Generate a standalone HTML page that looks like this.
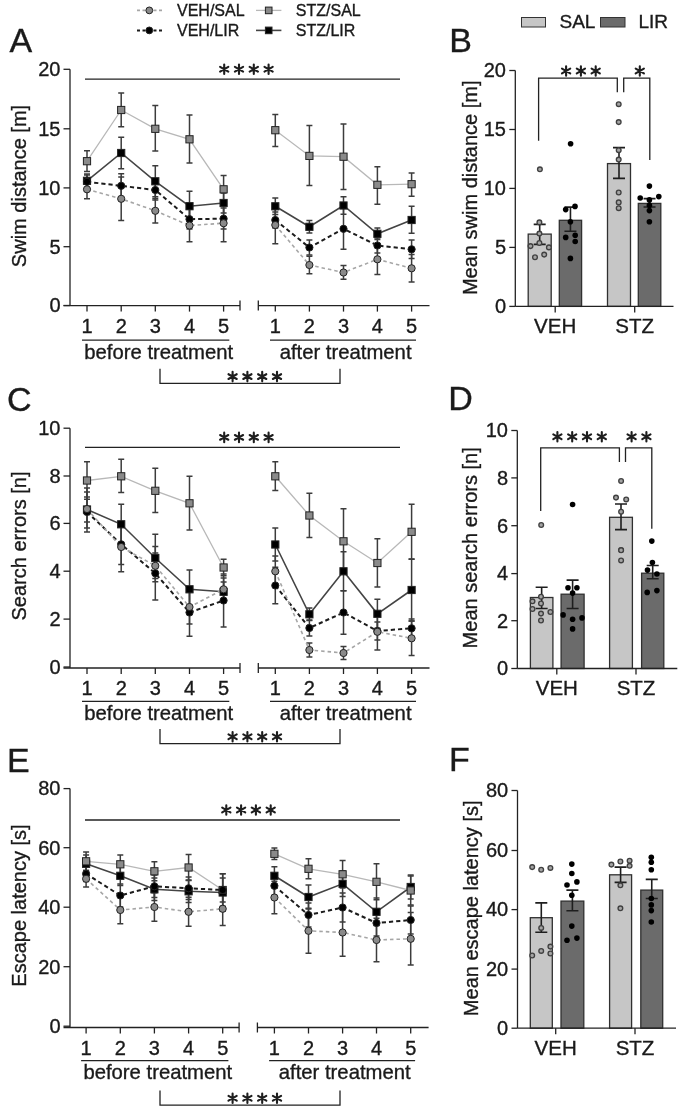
<!DOCTYPE html>
<html><head><meta charset="utf-8"><title>Figure</title>
<style>html,body{margin:0;padding:0;background:#fff;}svg{display:block;}text{font-family:"Liberation Sans", sans-serif;stroke:#1a1a1a;stroke-width:0.35px;}svg{will-change:transform;}</style>
</head><body>
<svg width="685" height="1114" viewBox="0 0 685 1114">
<rect width="685" height="1114" fill="#fff"/>
<line x1="137" y1="10.4" x2="162" y2="10.4" stroke="#a6a6a6" stroke-width="1.6" stroke-dasharray="3 2.5"/>
<circle cx="149.3" cy="10.4" r="3.4" fill="#8a8a8a" stroke="#222" stroke-width="1"/>
<line x1="137" y1="30.4" x2="162" y2="30.4" stroke="#1c1c1c" stroke-width="2.0" stroke-dasharray="3 2.5"/>
<circle cx="149.3" cy="30.4" r="3.4" fill="#000" stroke="#222" stroke-width="1"/>
<line x1="256" y1="10.4" x2="281.4" y2="10.4" stroke="#b8b8b8" stroke-width="1.3"/>
<rect x="265.4" y="7.1000000000000005" width="6.6" height="6.6" fill="#8a8a8a" stroke="#222" stroke-width="1"/>
<line x1="256" y1="30.4" x2="281.4" y2="30.4" stroke="#444" stroke-width="1.6"/>
<rect x="265.4" y="27.099999999999998" width="6.6" height="6.6" fill="#000" stroke="#222" stroke-width="1"/>
<text x="177" y="15.6" font-size="16" text-anchor="start" fill="#1a1a1a" >VEH/SAL</text>
<text x="177" y="35.8" font-size="16" text-anchor="start" fill="#1a1a1a" >VEH/LIR</text>
<text x="295.8" y="15.6" font-size="16" text-anchor="start" fill="#1a1a1a" >STZ/SAL</text>
<text x="295.8" y="35.8" font-size="16" text-anchor="start" fill="#1a1a1a" >STZ/LIR</text>
<rect x="521.5" y="17.5" width="24" height="9.5" fill="#c6c6c6" stroke="#333" stroke-width="1"/>
<rect x="600.5" y="17.5" width="24.5" height="9.5" fill="#6b6b6b" stroke="#333" stroke-width="1"/>
<text x="559.5" y="27.5" font-size="19" text-anchor="start" fill="#1a1a1a" >SAL</text>
<text x="638.5" y="27.5" font-size="19" text-anchor="start" fill="#1a1a1a" >LIR</text>
<line x1="70" y1="69.3" x2="70" y2="305.6" stroke="#222" stroke-width="1.3" />
<line x1="63.5" y1="69.3" x2="70" y2="69.3" stroke="#222" stroke-width="1.3" />
<text x="60.5" y="76.1" font-size="20" text-anchor="end" fill="#1a1a1a" >20</text>
<line x1="63.5" y1="128.8" x2="70" y2="128.8" stroke="#222" stroke-width="1.3" />
<text x="60.5" y="135.60000000000002" font-size="20" text-anchor="end" fill="#1a1a1a" >15</text>
<line x1="63.5" y1="187.9" x2="70" y2="187.9" stroke="#222" stroke-width="1.3" />
<text x="60.5" y="194.70000000000002" font-size="20" text-anchor="end" fill="#1a1a1a" >10</text>
<line x1="63.5" y1="246.7" x2="70" y2="246.7" stroke="#222" stroke-width="1.3" />
<text x="60.5" y="253.5" font-size="20" text-anchor="end" fill="#1a1a1a" >5</text>
<line x1="63.5" y1="305.5" x2="70" y2="305.5" stroke="#222" stroke-width="1.3" />
<text x="60.5" y="312.3" font-size="20" text-anchor="end" fill="#1a1a1a" >0</text>
<line x1="63.5" y1="305.6" x2="240" y2="305.6" stroke="#222" stroke-width="1.3" />
<line x1="240" y1="300.6" x2="240" y2="310.6" stroke="#222" stroke-width="1.3" />
<line x1="258.3" y1="300.6" x2="258.3" y2="310.6" stroke="#222" stroke-width="1.3" />
<line x1="258.3" y1="305.6" x2="429.5" y2="305.6" stroke="#222" stroke-width="1.3" />
<line x1="87" y1="305.6" x2="87" y2="311.6" stroke="#222" stroke-width="1.3" />
<text x="87" y="333.0" font-size="20" text-anchor="middle" fill="#1a1a1a" >1</text>
<line x1="121.2" y1="305.6" x2="121.2" y2="311.6" stroke="#222" stroke-width="1.3" />
<text x="121.2" y="333.0" font-size="20" text-anchor="middle" fill="#1a1a1a" >2</text>
<line x1="155.3" y1="305.6" x2="155.3" y2="311.6" stroke="#222" stroke-width="1.3" />
<text x="155.3" y="333.0" font-size="20" text-anchor="middle" fill="#1a1a1a" >3</text>
<line x1="189.5" y1="305.6" x2="189.5" y2="311.6" stroke="#222" stroke-width="1.3" />
<text x="189.5" y="333.0" font-size="20" text-anchor="middle" fill="#1a1a1a" >4</text>
<line x1="223.6" y1="305.6" x2="223.6" y2="311.6" stroke="#222" stroke-width="1.3" />
<text x="223.6" y="333.0" font-size="20" text-anchor="middle" fill="#1a1a1a" >5</text>
<line x1="275.3" y1="305.6" x2="275.3" y2="311.6" stroke="#222" stroke-width="1.3" />
<text x="275.3" y="333.0" font-size="20" text-anchor="middle" fill="#1a1a1a" >1</text>
<line x1="309.4" y1="305.6" x2="309.4" y2="311.6" stroke="#222" stroke-width="1.3" />
<text x="309.4" y="333.0" font-size="20" text-anchor="middle" fill="#1a1a1a" >2</text>
<line x1="343.5" y1="305.6" x2="343.5" y2="311.6" stroke="#222" stroke-width="1.3" />
<text x="343.5" y="333.0" font-size="20" text-anchor="middle" fill="#1a1a1a" >3</text>
<line x1="377.4" y1="305.6" x2="377.4" y2="311.6" stroke="#222" stroke-width="1.3" />
<text x="377.4" y="333.0" font-size="20" text-anchor="middle" fill="#1a1a1a" >4</text>
<line x1="411.6" y1="305.6" x2="411.6" y2="311.6" stroke="#222" stroke-width="1.3" />
<text x="411.6" y="333.0" font-size="20" text-anchor="middle" fill="#1a1a1a" >5</text>
<line x1="82" y1="340.1" x2="229.3" y2="340.1" stroke="#222" stroke-width="1.3" />
<line x1="270" y1="340.1" x2="416" y2="340.1" stroke="#222" stroke-width="1.3" />
<text x="158.7" y="358.5" font-size="20.3" text-anchor="middle" fill="#1a1a1a" >before treatment</text>
<text x="345.6" y="358.5" font-size="20.3" text-anchor="middle" fill="#1a1a1a" >after treatment</text>
<path d="M160,368.8V383.4H340V368.8" fill="none" stroke="#222" stroke-width="1.3"/>
<path d="M232.60,381.35L232.60,371.85M228.49,378.97L236.71,374.22M228.49,374.22L236.71,378.97" stroke="#1e1e1e" stroke-width="2.1" stroke-linecap="round" fill="none"/>
<path d="M247.40,381.35L247.40,371.85M243.29,378.97L251.51,374.22M243.29,374.22L251.51,378.97" stroke="#1e1e1e" stroke-width="2.1" stroke-linecap="round" fill="none"/>
<path d="M262.20,381.35L262.20,371.85M258.09,378.97L266.31,374.22M258.09,374.22L266.31,378.97" stroke="#1e1e1e" stroke-width="2.1" stroke-linecap="round" fill="none"/>
<path d="M277.00,381.35L277.00,371.85M272.89,378.97L281.11,374.22M272.89,374.22L281.11,378.97" stroke="#1e1e1e" stroke-width="2.1" stroke-linecap="round" fill="none"/>
<line x1="85" y1="79.2" x2="400" y2="79.2" stroke="#222" stroke-width="1.3" />
<path d="M224.20,73.95L224.20,64.45M220.09,71.58L228.31,66.83M220.09,66.83L228.31,71.58" stroke="#1e1e1e" stroke-width="2.1" stroke-linecap="round" fill="none"/>
<path d="M239.00,73.95L239.00,64.45M234.89,71.58L243.11,66.83M234.89,66.83L243.11,71.58" stroke="#1e1e1e" stroke-width="2.1" stroke-linecap="round" fill="none"/>
<path d="M253.80,73.95L253.80,64.45M249.69,71.58L257.91,66.83M249.69,66.83L257.91,71.58" stroke="#1e1e1e" stroke-width="2.1" stroke-linecap="round" fill="none"/>
<path d="M268.60,73.95L268.60,64.45M264.49,71.58L272.71,66.83M264.49,66.83L272.71,71.58" stroke="#1e1e1e" stroke-width="2.1" stroke-linecap="round" fill="none"/>
<text transform="translate(26.3,186) rotate(-90)" font-size="20" text-anchor="middle" fill="#1a1a1a">Swim distance [m]</text>
<text x="9.5" y="52.4" font-size="34" text-anchor="start" fill="#1a1a1a" >A</text>
<path d="M87,174V190M84.0,174H90.0M84.0,190H90.0" stroke="#3c3c3c" stroke-width="1.5" fill="none"/>
<path d="M121.2,137.3V168.8M118.2,137.3H124.2M118.2,168.8H124.2" stroke="#3c3c3c" stroke-width="1.5" fill="none"/>
<path d="M155.3,165.8V196.8M152.3,165.8H158.3M152.3,196.8H158.3" stroke="#3c3c3c" stroke-width="1.5" fill="none"/>
<path d="M189.5,191.3V221M186.5,191.3H192.5M186.5,221H192.5" stroke="#3c3c3c" stroke-width="1.5" fill="none"/>
<path d="M223.6,193V213M220.6,193H226.6M220.6,213H226.6" stroke="#3c3c3c" stroke-width="1.5" fill="none"/>
<path d="M275.3,198V214.6M272.3,198H278.3M272.3,214.6H278.3" stroke="#3c3c3c" stroke-width="1.5" fill="none"/>
<path d="M309.4,220.5V233.1M306.4,220.5H312.4M306.4,233.1H312.4" stroke="#3c3c3c" stroke-width="1.5" fill="none"/>
<path d="M343.5,196.8V214.2M340.5,196.8H346.5M340.5,214.2H346.5" stroke="#3c3c3c" stroke-width="1.5" fill="none"/>
<path d="M377.4,228V239.6M374.4,228H380.4M374.4,239.6H380.4" stroke="#3c3c3c" stroke-width="1.5" fill="none"/>
<path d="M411.6,206.3V233.3M408.6,206.3H414.6M408.6,233.3H414.6" stroke="#3c3c3c" stroke-width="1.5" fill="none"/>
<path d="M87,150.8V171.6M84.0,150.8H90.0M84.0,171.6H90.0" stroke="#3c3c3c" stroke-width="1.5" fill="none"/>
<path d="M121.2,93V126.8M118.2,93H124.2M118.2,126.8H124.2" stroke="#3c3c3c" stroke-width="1.5" fill="none"/>
<path d="M155.3,105.5V151M152.3,105.5H158.3M152.3,151H158.3" stroke="#3c3c3c" stroke-width="1.5" fill="none"/>
<path d="M189.5,115V163M186.5,115H192.5M186.5,163H192.5" stroke="#3c3c3c" stroke-width="1.5" fill="none"/>
<path d="M223.6,175.5V203M220.6,175.5H226.6M220.6,203H226.6" stroke="#3c3c3c" stroke-width="1.5" fill="none"/>
<path d="M275.3,114.5V146.4M272.3,114.5H278.3M272.3,146.4H278.3" stroke="#3c3c3c" stroke-width="1.5" fill="none"/>
<path d="M309.4,125.6V185.6M306.4,125.6H312.4M306.4,185.6H312.4" stroke="#3c3c3c" stroke-width="1.5" fill="none"/>
<path d="M343.5,124V189.4M340.5,124H346.5M340.5,189.4H346.5" stroke="#3c3c3c" stroke-width="1.5" fill="none"/>
<path d="M377.4,166.7V204.3M374.4,166.7H380.4M374.4,204.3H380.4" stroke="#3c3c3c" stroke-width="1.5" fill="none"/>
<path d="M411.6,172.9V196.3M408.6,172.9H414.6M408.6,196.3H414.6" stroke="#3c3c3c" stroke-width="1.5" fill="none"/>
<path d="M87,175V191M84.0,175H90.0M84.0,191H90.0" stroke="#3c3c3c" stroke-width="1.5" fill="none"/>
<path d="M121.2,173.8V197.8M118.2,173.8H124.2M118.2,197.8H124.2" stroke="#3c3c3c" stroke-width="1.5" fill="none"/>
<path d="M155.3,180V200M152.3,180H158.3M152.3,200H158.3" stroke="#3c3c3c" stroke-width="1.5" fill="none"/>
<path d="M189.5,209V229M186.5,209H192.5M186.5,229H192.5" stroke="#3c3c3c" stroke-width="1.5" fill="none"/>
<path d="M223.6,208V229M220.6,208H226.6M220.6,229H226.6" stroke="#3c3c3c" stroke-width="1.5" fill="none"/>
<path d="M275.3,212V228M272.3,212H278.3M272.3,228H278.3" stroke="#3c3c3c" stroke-width="1.5" fill="none"/>
<path d="M309.4,240V255M306.4,240H312.4M306.4,255H312.4" stroke="#3c3c3c" stroke-width="1.5" fill="none"/>
<path d="M343.5,208.3V249.3M340.5,208.3H346.5M340.5,249.3H346.5" stroke="#3c3c3c" stroke-width="1.5" fill="none"/>
<path d="M377.4,238V253M374.4,238H380.4M374.4,253H380.4" stroke="#3c3c3c" stroke-width="1.5" fill="none"/>
<path d="M411.6,240V258.6M408.6,240H414.6M408.6,258.6H414.6" stroke="#3c3c3c" stroke-width="1.5" fill="none"/>
<path d="M87,179.8V198.8M84.0,179.8H90.0M84.0,198.8H90.0" stroke="#3c3c3c" stroke-width="1.5" fill="none"/>
<path d="M121.2,177V220.5M118.2,177H124.2M118.2,220.5H124.2" stroke="#3c3c3c" stroke-width="1.5" fill="none"/>
<path d="M155.3,198.6V223M152.3,198.6H158.3M152.3,223H158.3" stroke="#3c3c3c" stroke-width="1.5" fill="none"/>
<path d="M189.5,209.2V241.8M186.5,209.2H192.5M186.5,241.8H192.5" stroke="#3c3c3c" stroke-width="1.5" fill="none"/>
<path d="M223.6,204.6V241.8M220.6,204.6H226.6M220.6,241.8H226.6" stroke="#3c3c3c" stroke-width="1.5" fill="none"/>
<path d="M275.3,206.2V243.8M272.3,206.2H278.3M272.3,243.8H278.3" stroke="#3c3c3c" stroke-width="1.5" fill="none"/>
<path d="M309.4,256.2V273.8M306.4,256.2H312.4M306.4,273.8H312.4" stroke="#3c3c3c" stroke-width="1.5" fill="none"/>
<path d="M343.5,265.5V279.3M340.5,265.5H346.5M340.5,279.3H346.5" stroke="#3c3c3c" stroke-width="1.5" fill="none"/>
<path d="M377.4,244.1V274.5M374.4,244.1H380.4M374.4,274.5H380.4" stroke="#3c3c3c" stroke-width="1.5" fill="none"/>
<path d="M411.6,254.6V282M408.6,254.6H414.6M408.6,282H414.6" stroke="#3c3c3c" stroke-width="1.5" fill="none"/>
<polyline points="87,180.8 121.2,153 155.3,181.3 189.5,206.2 223.6,203" fill="none" stroke="#444" stroke-width="1.6" />
<polyline points="275.3,206.3 309.4,226.8 343.5,205.5 377.4,233.8 411.6,220" fill="none" stroke="#444" stroke-width="1.6" />
<polyline points="87,161.2 121.2,110 155.3,128.8 189.5,139.3 223.6,189.3" fill="none" stroke="#b8b8b8" stroke-width="1.3" />
<polyline points="275.3,130.2 309.4,155.9 343.5,156.7 377.4,184.8 411.6,184.2" fill="none" stroke="#b8b8b8" stroke-width="1.3" />
<polyline points="87,181.8 121.2,185.8 155.3,190 189.5,219.2 223.6,218.7" fill="none" stroke="#1c1c1c" stroke-width="2.0" stroke-dasharray="4.2 3"/>
<polyline points="275.3,220 309.4,247.5 343.5,228.8 377.4,245.5 411.6,249.3" fill="none" stroke="#1c1c1c" stroke-width="2.0" stroke-dasharray="4.2 3"/>
<polyline points="87,189.3 121.2,198.8 155.3,210.8 189.5,225.5 223.6,223.2" fill="none" stroke="#a6a6a6" stroke-width="1.6" stroke-dasharray="3.5 3"/>
<polyline points="275.3,225 309.4,265 343.5,272.5 377.4,259.3 411.6,268.3" fill="none" stroke="#a6a6a6" stroke-width="1.6" stroke-dasharray="3.5 3"/>
<rect x="83.4" y="177.20000000000002" width="7.2" height="7.2" fill="#000" stroke="#222" stroke-width="1"/>
<rect x="117.60000000000001" y="149.4" width="7.2" height="7.2" fill="#000" stroke="#222" stroke-width="1"/>
<rect x="151.70000000000002" y="177.70000000000002" width="7.2" height="7.2" fill="#000" stroke="#222" stroke-width="1"/>
<rect x="185.9" y="202.6" width="7.2" height="7.2" fill="#000" stroke="#222" stroke-width="1"/>
<rect x="220.0" y="199.4" width="7.2" height="7.2" fill="#000" stroke="#222" stroke-width="1"/>
<rect x="271.7" y="202.70000000000002" width="7.2" height="7.2" fill="#000" stroke="#222" stroke-width="1"/>
<rect x="305.79999999999995" y="223.20000000000002" width="7.2" height="7.2" fill="#000" stroke="#222" stroke-width="1"/>
<rect x="339.9" y="201.9" width="7.2" height="7.2" fill="#000" stroke="#222" stroke-width="1"/>
<rect x="373.79999999999995" y="230.20000000000002" width="7.2" height="7.2" fill="#000" stroke="#222" stroke-width="1"/>
<rect x="408.0" y="216.4" width="7.2" height="7.2" fill="#000" stroke="#222" stroke-width="1"/>
<rect x="83.4" y="157.6" width="7.2" height="7.2" fill="#8a8a8a" stroke="#222" stroke-width="1"/>
<rect x="117.60000000000001" y="106.4" width="7.2" height="7.2" fill="#8a8a8a" stroke="#222" stroke-width="1"/>
<rect x="151.70000000000002" y="125.20000000000002" width="7.2" height="7.2" fill="#8a8a8a" stroke="#222" stroke-width="1"/>
<rect x="185.9" y="135.70000000000002" width="7.2" height="7.2" fill="#8a8a8a" stroke="#222" stroke-width="1"/>
<rect x="220.0" y="185.70000000000002" width="7.2" height="7.2" fill="#8a8a8a" stroke="#222" stroke-width="1"/>
<rect x="271.7" y="126.6" width="7.2" height="7.2" fill="#8a8a8a" stroke="#222" stroke-width="1"/>
<rect x="305.79999999999995" y="152.3" width="7.2" height="7.2" fill="#8a8a8a" stroke="#222" stroke-width="1"/>
<rect x="339.9" y="153.1" width="7.2" height="7.2" fill="#8a8a8a" stroke="#222" stroke-width="1"/>
<rect x="373.79999999999995" y="181.20000000000002" width="7.2" height="7.2" fill="#8a8a8a" stroke="#222" stroke-width="1"/>
<rect x="408.0" y="180.6" width="7.2" height="7.2" fill="#8a8a8a" stroke="#222" stroke-width="1"/>
<circle cx="87" cy="181.8" r="3.6" fill="#000" stroke="#222" stroke-width="1"/>
<circle cx="121.2" cy="185.8" r="3.6" fill="#000" stroke="#222" stroke-width="1"/>
<circle cx="155.3" cy="190" r="3.6" fill="#000" stroke="#222" stroke-width="1"/>
<circle cx="189.5" cy="219.2" r="3.6" fill="#000" stroke="#222" stroke-width="1"/>
<circle cx="223.6" cy="218.7" r="3.6" fill="#000" stroke="#222" stroke-width="1"/>
<circle cx="275.3" cy="220" r="3.6" fill="#000" stroke="#222" stroke-width="1"/>
<circle cx="309.4" cy="247.5" r="3.6" fill="#000" stroke="#222" stroke-width="1"/>
<circle cx="343.5" cy="228.8" r="3.6" fill="#000" stroke="#222" stroke-width="1"/>
<circle cx="377.4" cy="245.5" r="3.6" fill="#000" stroke="#222" stroke-width="1"/>
<circle cx="411.6" cy="249.3" r="3.6" fill="#000" stroke="#222" stroke-width="1"/>
<circle cx="87" cy="189.3" r="3.6" fill="#8a8a8a" stroke="#222" stroke-width="1"/>
<circle cx="121.2" cy="198.8" r="3.6" fill="#8a8a8a" stroke="#222" stroke-width="1"/>
<circle cx="155.3" cy="210.8" r="3.6" fill="#8a8a8a" stroke="#222" stroke-width="1"/>
<circle cx="189.5" cy="225.5" r="3.6" fill="#8a8a8a" stroke="#222" stroke-width="1"/>
<circle cx="223.6" cy="223.2" r="3.6" fill="#8a8a8a" stroke="#222" stroke-width="1"/>
<circle cx="275.3" cy="225" r="3.6" fill="#8a8a8a" stroke="#222" stroke-width="1"/>
<circle cx="309.4" cy="265" r="3.6" fill="#8a8a8a" stroke="#222" stroke-width="1"/>
<circle cx="343.5" cy="272.5" r="3.6" fill="#8a8a8a" stroke="#222" stroke-width="1"/>
<circle cx="377.4" cy="259.3" r="3.6" fill="#8a8a8a" stroke="#222" stroke-width="1"/>
<circle cx="411.6" cy="268.3" r="3.6" fill="#8a8a8a" stroke="#222" stroke-width="1"/>
<line x1="70" y1="428.2" x2="70" y2="668" stroke="#222" stroke-width="1.3" />
<line x1="63.5" y1="428.2" x2="70" y2="428.2" stroke="#222" stroke-width="1.3" />
<text x="60.5" y="435.0" font-size="20" text-anchor="end" fill="#1a1a1a" >10</text>
<line x1="63.5" y1="476" x2="70" y2="476" stroke="#222" stroke-width="1.3" />
<text x="60.5" y="482.8" font-size="20" text-anchor="end" fill="#1a1a1a" >8</text>
<line x1="63.5" y1="523.4" x2="70" y2="523.4" stroke="#222" stroke-width="1.3" />
<text x="60.5" y="530.1999999999999" font-size="20" text-anchor="end" fill="#1a1a1a" >6</text>
<line x1="63.5" y1="571.2" x2="70" y2="571.2" stroke="#222" stroke-width="1.3" />
<text x="60.5" y="578.0" font-size="20" text-anchor="end" fill="#1a1a1a" >4</text>
<line x1="63.5" y1="619.1" x2="70" y2="619.1" stroke="#222" stroke-width="1.3" />
<text x="60.5" y="625.9" font-size="20" text-anchor="end" fill="#1a1a1a" >2</text>
<line x1="63.5" y1="667" x2="70" y2="667" stroke="#222" stroke-width="1.3" />
<text x="60.5" y="673.8" font-size="20" text-anchor="end" fill="#1a1a1a" >0</text>
<line x1="63.5" y1="668" x2="240" y2="668" stroke="#222" stroke-width="1.3" />
<line x1="240" y1="663" x2="240" y2="673" stroke="#222" stroke-width="1.3" />
<line x1="258.3" y1="663" x2="258.3" y2="673" stroke="#222" stroke-width="1.3" />
<line x1="258.3" y1="668" x2="429.5" y2="668" stroke="#222" stroke-width="1.3" />
<line x1="87" y1="668" x2="87" y2="674" stroke="#222" stroke-width="1.3" />
<text x="87" y="695.4" font-size="20" text-anchor="middle" fill="#1a1a1a" >1</text>
<line x1="121.2" y1="668" x2="121.2" y2="674" stroke="#222" stroke-width="1.3" />
<text x="121.2" y="695.4" font-size="20" text-anchor="middle" fill="#1a1a1a" >2</text>
<line x1="155.3" y1="668" x2="155.3" y2="674" stroke="#222" stroke-width="1.3" />
<text x="155.3" y="695.4" font-size="20" text-anchor="middle" fill="#1a1a1a" >3</text>
<line x1="189.5" y1="668" x2="189.5" y2="674" stroke="#222" stroke-width="1.3" />
<text x="189.5" y="695.4" font-size="20" text-anchor="middle" fill="#1a1a1a" >4</text>
<line x1="223.6" y1="668" x2="223.6" y2="674" stroke="#222" stroke-width="1.3" />
<text x="223.6" y="695.4" font-size="20" text-anchor="middle" fill="#1a1a1a" >5</text>
<line x1="275.3" y1="668" x2="275.3" y2="674" stroke="#222" stroke-width="1.3" />
<text x="275.3" y="695.4" font-size="20" text-anchor="middle" fill="#1a1a1a" >1</text>
<line x1="309.4" y1="668" x2="309.4" y2="674" stroke="#222" stroke-width="1.3" />
<text x="309.4" y="695.4" font-size="20" text-anchor="middle" fill="#1a1a1a" >2</text>
<line x1="343.5" y1="668" x2="343.5" y2="674" stroke="#222" stroke-width="1.3" />
<text x="343.5" y="695.4" font-size="20" text-anchor="middle" fill="#1a1a1a" >3</text>
<line x1="377.4" y1="668" x2="377.4" y2="674" stroke="#222" stroke-width="1.3" />
<text x="377.4" y="695.4" font-size="20" text-anchor="middle" fill="#1a1a1a" >4</text>
<line x1="411.6" y1="668" x2="411.6" y2="674" stroke="#222" stroke-width="1.3" />
<text x="411.6" y="695.4" font-size="20" text-anchor="middle" fill="#1a1a1a" >5</text>
<line x1="82" y1="701.3" x2="229.3" y2="701.3" stroke="#222" stroke-width="1.3" />
<line x1="270" y1="701.3" x2="416" y2="701.3" stroke="#222" stroke-width="1.3" />
<text x="158.7" y="719.6999999999999" font-size="20.3" text-anchor="middle" fill="#1a1a1a" >before treatment</text>
<text x="345.6" y="719.6999999999999" font-size="20.3" text-anchor="middle" fill="#1a1a1a" >after treatment</text>
<path d="M160,729V743.6H340V729" fill="none" stroke="#222" stroke-width="1.3"/>
<path d="M232.60,741.55L232.60,732.05M228.49,739.18L236.71,734.43M228.49,734.43L236.71,739.18" stroke="#1e1e1e" stroke-width="2.1" stroke-linecap="round" fill="none"/>
<path d="M247.40,741.55L247.40,732.05M243.29,739.18L251.51,734.43M243.29,734.43L251.51,739.18" stroke="#1e1e1e" stroke-width="2.1" stroke-linecap="round" fill="none"/>
<path d="M262.20,741.55L262.20,732.05M258.09,739.18L266.31,734.43M258.09,734.43L266.31,739.18" stroke="#1e1e1e" stroke-width="2.1" stroke-linecap="round" fill="none"/>
<path d="M277.00,741.55L277.00,732.05M272.89,739.18L281.11,734.43M272.89,734.43L281.11,739.18" stroke="#1e1e1e" stroke-width="2.1" stroke-linecap="round" fill="none"/>
<line x1="85" y1="447.4" x2="400" y2="447.4" stroke="#222" stroke-width="1.3" />
<path d="M224.20,442.15L224.20,432.65M220.09,439.77L228.31,435.02M220.09,435.02L228.31,439.77" stroke="#1e1e1e" stroke-width="2.1" stroke-linecap="round" fill="none"/>
<path d="M239.00,442.15L239.00,432.65M234.89,439.77L243.11,435.02M234.89,435.02L243.11,439.77" stroke="#1e1e1e" stroke-width="2.1" stroke-linecap="round" fill="none"/>
<path d="M253.80,442.15L253.80,432.65M249.69,439.77L257.91,435.02M249.69,435.02L257.91,439.77" stroke="#1e1e1e" stroke-width="2.1" stroke-linecap="round" fill="none"/>
<path d="M268.60,442.15L268.60,432.65M264.49,439.77L272.71,435.02M264.49,435.02L272.71,439.77" stroke="#1e1e1e" stroke-width="2.1" stroke-linecap="round" fill="none"/>
<text transform="translate(26.3,546) rotate(-90)" font-size="20" text-anchor="middle" fill="#1a1a1a">Search errors [n]</text>
<text x="7" y="411.3" font-size="34" text-anchor="start" fill="#1a1a1a" >C</text>
<path d="M87,497V522M84.0,497H90.0M84.0,522H90.0" stroke="#3c3c3c" stroke-width="1.5" fill="none"/>
<path d="M121.2,504.3V544.3M118.2,504.3H124.2M118.2,544.3H124.2" stroke="#3c3c3c" stroke-width="1.5" fill="none"/>
<path d="M155.3,534.3V581.7M152.3,534.3H158.3M152.3,581.7H158.3" stroke="#3c3c3c" stroke-width="1.5" fill="none"/>
<path d="M189.5,570V608.6M186.5,570H192.5M186.5,608.6H192.5" stroke="#3c3c3c" stroke-width="1.5" fill="none"/>
<path d="M223.6,582V601.6M220.6,582H226.6M220.6,601.6H226.6" stroke="#3c3c3c" stroke-width="1.5" fill="none"/>
<path d="M275.3,528V561M272.3,528H278.3M272.3,561H278.3" stroke="#3c3c3c" stroke-width="1.5" fill="none"/>
<path d="M309.4,608V620.6M306.4,608H312.4M306.4,620.6H312.4" stroke="#3c3c3c" stroke-width="1.5" fill="none"/>
<path d="M343.5,551.8V590.8M340.5,551.8H346.5M340.5,590.8H346.5" stroke="#3c3c3c" stroke-width="1.5" fill="none"/>
<path d="M377.4,599.3V628.3M374.4,599.3H380.4M374.4,628.3H380.4" stroke="#3c3c3c" stroke-width="1.5" fill="none"/>
<path d="M411.6,559V621M408.6,559H414.6M408.6,621H414.6" stroke="#3c3c3c" stroke-width="1.5" fill="none"/>
<path d="M87,461.8V499.2M84.0,461.8H90.0M84.0,499.2H90.0" stroke="#3c3c3c" stroke-width="1.5" fill="none"/>
<path d="M121.2,459.3V492.5M118.2,459.3H124.2M118.2,492.5H124.2" stroke="#3c3c3c" stroke-width="1.5" fill="none"/>
<path d="M155.3,468.3V512.5M152.3,468.3H158.3M152.3,512.5H158.3" stroke="#3c3c3c" stroke-width="1.5" fill="none"/>
<path d="M189.5,476.3V530M186.5,476.3H192.5M186.5,530H192.5" stroke="#3c3c3c" stroke-width="1.5" fill="none"/>
<path d="M223.6,559.3V575.7M220.6,559.3H226.6M220.6,575.7H226.6" stroke="#3c3c3c" stroke-width="1.5" fill="none"/>
<path d="M275.3,461.8V490.5M272.3,461.8H278.3M272.3,490.5H278.3" stroke="#3c3c3c" stroke-width="1.5" fill="none"/>
<path d="M309.4,493.3V537.5M306.4,493.3H312.4M306.4,537.5H312.4" stroke="#3c3c3c" stroke-width="1.5" fill="none"/>
<path d="M343.5,508.8V573.8M340.5,508.8H346.5M340.5,573.8H346.5" stroke="#3c3c3c" stroke-width="1.5" fill="none"/>
<path d="M377.4,538.8V587M374.4,538.8H380.4M374.4,587H380.4" stroke="#3c3c3c" stroke-width="1.5" fill="none"/>
<path d="M411.6,504.3V559.3M408.6,504.3H414.6M408.6,559.3H414.6" stroke="#3c3c3c" stroke-width="1.5" fill="none"/>
<path d="M87,492V532M84.0,492H90.0M84.0,532H90.0" stroke="#3c3c3c" stroke-width="1.5" fill="none"/>
<path d="M121.2,524V564.6M118.2,524H124.2M118.2,564.6H124.2" stroke="#3c3c3c" stroke-width="1.5" fill="none"/>
<path d="M155.3,546.6V600M152.3,546.6H158.3M152.3,600H158.3" stroke="#3c3c3c" stroke-width="1.5" fill="none"/>
<path d="M189.5,588.7V636.3M186.5,588.7H192.5M186.5,636.3H192.5" stroke="#3c3c3c" stroke-width="1.5" fill="none"/>
<path d="M223.6,574V627M220.6,574H226.6M220.6,627H226.6" stroke="#3c3c3c" stroke-width="1.5" fill="none"/>
<path d="M275.3,567.2V603.8M272.3,567.2H278.3M272.3,603.8H278.3" stroke="#3c3c3c" stroke-width="1.5" fill="none"/>
<path d="M309.4,620V636M306.4,620H312.4M306.4,636H312.4" stroke="#3c3c3c" stroke-width="1.5" fill="none"/>
<path d="M343.5,590.7V634.3M340.5,590.7H346.5M340.5,634.3H346.5" stroke="#3c3c3c" stroke-width="1.5" fill="none"/>
<path d="M377.4,622V640M374.4,622H380.4M374.4,640H380.4" stroke="#3c3c3c" stroke-width="1.5" fill="none"/>
<path d="M411.6,619V637.6M408.6,619H414.6M408.6,637.6H414.6" stroke="#3c3c3c" stroke-width="1.5" fill="none"/>
<path d="M87,488V528M84.0,488H90.0M84.0,528H90.0" stroke="#3c3c3c" stroke-width="1.5" fill="none"/>
<path d="M121.2,522.2V571.8M118.2,522.2H124.2M118.2,571.8H124.2" stroke="#3c3c3c" stroke-width="1.5" fill="none"/>
<path d="M155.3,553V578.6M152.3,553H158.3M152.3,578.6H158.3" stroke="#3c3c3c" stroke-width="1.5" fill="none"/>
<path d="M189.5,590V624M186.5,590H192.5M186.5,624H192.5" stroke="#3c3c3c" stroke-width="1.5" fill="none"/>
<path d="M223.6,578V600.6M220.6,578H226.6M220.6,600.6H226.6" stroke="#3c3c3c" stroke-width="1.5" fill="none"/>
<path d="M275.3,556V586.6M272.3,556H278.3M272.3,586.6H278.3" stroke="#3c3c3c" stroke-width="1.5" fill="none"/>
<path d="M309.4,643V657M306.4,643H312.4M306.4,657H312.4" stroke="#3c3c3c" stroke-width="1.5" fill="none"/>
<path d="M343.5,646.5V659.5M340.5,646.5H346.5M340.5,659.5H346.5" stroke="#3c3c3c" stroke-width="1.5" fill="none"/>
<path d="M377.4,613.6V650M374.4,613.6H380.4M374.4,650H380.4" stroke="#3c3c3c" stroke-width="1.5" fill="none"/>
<path d="M411.6,621V655.5M408.6,621H414.6M408.6,655.5H414.6" stroke="#3c3c3c" stroke-width="1.5" fill="none"/>
<polyline points="87,509.5 121.2,524.3 155.3,558 189.5,589.3 223.6,591.8" fill="none" stroke="#444" stroke-width="1.6" />
<polyline points="275.3,544.5 309.4,614.3 343.5,571.3 377.4,613.8 411.6,590" fill="none" stroke="#444" stroke-width="1.6" />
<polyline points="87,480.5 121.2,476.3 155.3,490.8 189.5,503.3 223.6,567.5" fill="none" stroke="#b8b8b8" stroke-width="1.3" />
<polyline points="275.3,476.3 309.4,515.5 343.5,541.3 377.4,563 411.6,531.8" fill="none" stroke="#b8b8b8" stroke-width="1.3" />
<polyline points="87,512 121.2,544.3 155.3,573.3 189.5,612.5 223.6,600.5" fill="none" stroke="#1c1c1c" stroke-width="2.0" stroke-dasharray="4.2 3"/>
<polyline points="275.3,585.5 309.4,628 343.5,612.5 377.4,631 411.6,628.3" fill="none" stroke="#1c1c1c" stroke-width="2.0" stroke-dasharray="4.2 3"/>
<polyline points="87,509 121.2,547 155.3,565.8 189.5,607 223.6,589.3" fill="none" stroke="#a6a6a6" stroke-width="1.6" stroke-dasharray="3.5 3"/>
<polyline points="275.3,571.3 309.4,650 343.5,653 377.4,631.8 411.6,638.3" fill="none" stroke="#a6a6a6" stroke-width="1.6" stroke-dasharray="3.5 3"/>
<rect x="83.4" y="505.9" width="7.2" height="7.2" fill="#000" stroke="#222" stroke-width="1"/>
<rect x="117.60000000000001" y="520.6999999999999" width="7.2" height="7.2" fill="#000" stroke="#222" stroke-width="1"/>
<rect x="151.70000000000002" y="554.4" width="7.2" height="7.2" fill="#000" stroke="#222" stroke-width="1"/>
<rect x="185.9" y="585.6999999999999" width="7.2" height="7.2" fill="#000" stroke="#222" stroke-width="1"/>
<rect x="220.0" y="588.1999999999999" width="7.2" height="7.2" fill="#000" stroke="#222" stroke-width="1"/>
<rect x="271.7" y="540.9" width="7.2" height="7.2" fill="#000" stroke="#222" stroke-width="1"/>
<rect x="305.79999999999995" y="610.6999999999999" width="7.2" height="7.2" fill="#000" stroke="#222" stroke-width="1"/>
<rect x="339.9" y="567.6999999999999" width="7.2" height="7.2" fill="#000" stroke="#222" stroke-width="1"/>
<rect x="373.79999999999995" y="610.1999999999999" width="7.2" height="7.2" fill="#000" stroke="#222" stroke-width="1"/>
<rect x="408.0" y="586.4" width="7.2" height="7.2" fill="#000" stroke="#222" stroke-width="1"/>
<rect x="83.4" y="476.9" width="7.2" height="7.2" fill="#8a8a8a" stroke="#222" stroke-width="1"/>
<rect x="117.60000000000001" y="472.7" width="7.2" height="7.2" fill="#8a8a8a" stroke="#222" stroke-width="1"/>
<rect x="151.70000000000002" y="487.2" width="7.2" height="7.2" fill="#8a8a8a" stroke="#222" stroke-width="1"/>
<rect x="185.9" y="499.7" width="7.2" height="7.2" fill="#8a8a8a" stroke="#222" stroke-width="1"/>
<rect x="220.0" y="563.9" width="7.2" height="7.2" fill="#8a8a8a" stroke="#222" stroke-width="1"/>
<rect x="271.7" y="472.7" width="7.2" height="7.2" fill="#8a8a8a" stroke="#222" stroke-width="1"/>
<rect x="305.79999999999995" y="511.9" width="7.2" height="7.2" fill="#8a8a8a" stroke="#222" stroke-width="1"/>
<rect x="339.9" y="537.6999999999999" width="7.2" height="7.2" fill="#8a8a8a" stroke="#222" stroke-width="1"/>
<rect x="373.79999999999995" y="559.4" width="7.2" height="7.2" fill="#8a8a8a" stroke="#222" stroke-width="1"/>
<rect x="408.0" y="528.1999999999999" width="7.2" height="7.2" fill="#8a8a8a" stroke="#222" stroke-width="1"/>
<circle cx="87" cy="512" r="3.6" fill="#000" stroke="#222" stroke-width="1"/>
<circle cx="121.2" cy="544.3" r="3.6" fill="#000" stroke="#222" stroke-width="1"/>
<circle cx="155.3" cy="573.3" r="3.6" fill="#000" stroke="#222" stroke-width="1"/>
<circle cx="189.5" cy="612.5" r="3.6" fill="#000" stroke="#222" stroke-width="1"/>
<circle cx="223.6" cy="600.5" r="3.6" fill="#000" stroke="#222" stroke-width="1"/>
<circle cx="275.3" cy="585.5" r="3.6" fill="#000" stroke="#222" stroke-width="1"/>
<circle cx="309.4" cy="628" r="3.6" fill="#000" stroke="#222" stroke-width="1"/>
<circle cx="343.5" cy="612.5" r="3.6" fill="#000" stroke="#222" stroke-width="1"/>
<circle cx="377.4" cy="631" r="3.6" fill="#000" stroke="#222" stroke-width="1"/>
<circle cx="411.6" cy="628.3" r="3.6" fill="#000" stroke="#222" stroke-width="1"/>
<circle cx="87" cy="509" r="3.6" fill="#8a8a8a" stroke="#222" stroke-width="1"/>
<circle cx="121.2" cy="547" r="3.6" fill="#8a8a8a" stroke="#222" stroke-width="1"/>
<circle cx="155.3" cy="565.8" r="3.6" fill="#8a8a8a" stroke="#222" stroke-width="1"/>
<circle cx="189.5" cy="607" r="3.6" fill="#8a8a8a" stroke="#222" stroke-width="1"/>
<circle cx="223.6" cy="589.3" r="3.6" fill="#8a8a8a" stroke="#222" stroke-width="1"/>
<circle cx="275.3" cy="571.3" r="3.6" fill="#8a8a8a" stroke="#222" stroke-width="1"/>
<circle cx="309.4" cy="650" r="3.6" fill="#8a8a8a" stroke="#222" stroke-width="1"/>
<circle cx="343.5" cy="653" r="3.6" fill="#8a8a8a" stroke="#222" stroke-width="1"/>
<circle cx="377.4" cy="631.8" r="3.6" fill="#8a8a8a" stroke="#222" stroke-width="1"/>
<circle cx="411.6" cy="638.3" r="3.6" fill="#8a8a8a" stroke="#222" stroke-width="1"/>
<line x1="70" y1="788.6" x2="70" y2="1027.5" stroke="#222" stroke-width="1.3" />
<line x1="63.5" y1="788.6" x2="70" y2="788.6" stroke="#222" stroke-width="1.3" />
<text x="60.5" y="795.4" font-size="20" text-anchor="end" fill="#1a1a1a" >80</text>
<line x1="63.5" y1="847.7" x2="70" y2="847.7" stroke="#222" stroke-width="1.3" />
<text x="60.5" y="854.5" font-size="20" text-anchor="end" fill="#1a1a1a" >60</text>
<line x1="63.5" y1="907.2" x2="70" y2="907.2" stroke="#222" stroke-width="1.3" />
<text x="60.5" y="914.0" font-size="20" text-anchor="end" fill="#1a1a1a" >40</text>
<line x1="63.5" y1="966.7" x2="70" y2="966.7" stroke="#222" stroke-width="1.3" />
<text x="60.5" y="973.5" font-size="20" text-anchor="end" fill="#1a1a1a" >20</text>
<line x1="63.5" y1="1026.2" x2="70" y2="1026.2" stroke="#222" stroke-width="1.3" />
<text x="60.5" y="1033.0" font-size="20" text-anchor="end" fill="#1a1a1a" >0</text>
<line x1="63.5" y1="1027.5" x2="239.1" y2="1027.5" stroke="#222" stroke-width="1.3" />
<line x1="239.1" y1="1022.5" x2="239.1" y2="1032.5" stroke="#222" stroke-width="1.3" />
<line x1="257.40000000000003" y1="1022.5" x2="257.40000000000003" y2="1032.5" stroke="#222" stroke-width="1.3" />
<line x1="257.40000000000003" y1="1027.5" x2="428.6" y2="1027.5" stroke="#222" stroke-width="1.3" />
<line x1="86.1" y1="1027.5" x2="86.1" y2="1033.5" stroke="#222" stroke-width="1.3" />
<text x="86.1" y="1054.9" font-size="20" text-anchor="middle" fill="#1a1a1a" >1</text>
<line x1="120.3" y1="1027.5" x2="120.3" y2="1033.5" stroke="#222" stroke-width="1.3" />
<text x="120.3" y="1054.9" font-size="20" text-anchor="middle" fill="#1a1a1a" >2</text>
<line x1="154.4" y1="1027.5" x2="154.4" y2="1033.5" stroke="#222" stroke-width="1.3" />
<text x="154.4" y="1054.9" font-size="20" text-anchor="middle" fill="#1a1a1a" >3</text>
<line x1="188.6" y1="1027.5" x2="188.6" y2="1033.5" stroke="#222" stroke-width="1.3" />
<text x="188.6" y="1054.9" font-size="20" text-anchor="middle" fill="#1a1a1a" >4</text>
<line x1="222.7" y1="1027.5" x2="222.7" y2="1033.5" stroke="#222" stroke-width="1.3" />
<text x="222.7" y="1054.9" font-size="20" text-anchor="middle" fill="#1a1a1a" >5</text>
<line x1="274.40000000000003" y1="1027.5" x2="274.40000000000003" y2="1033.5" stroke="#222" stroke-width="1.3" />
<text x="274.40000000000003" y="1054.9" font-size="20" text-anchor="middle" fill="#1a1a1a" >1</text>
<line x1="308.5" y1="1027.5" x2="308.5" y2="1033.5" stroke="#222" stroke-width="1.3" />
<text x="308.5" y="1054.9" font-size="20" text-anchor="middle" fill="#1a1a1a" >2</text>
<line x1="342.6" y1="1027.5" x2="342.6" y2="1033.5" stroke="#222" stroke-width="1.3" />
<text x="342.6" y="1054.9" font-size="20" text-anchor="middle" fill="#1a1a1a" >3</text>
<line x1="376.5" y1="1027.5" x2="376.5" y2="1033.5" stroke="#222" stroke-width="1.3" />
<text x="376.5" y="1054.9" font-size="20" text-anchor="middle" fill="#1a1a1a" >4</text>
<line x1="410.70000000000005" y1="1027.5" x2="410.70000000000005" y2="1033.5" stroke="#222" stroke-width="1.3" />
<text x="410.70000000000005" y="1054.9" font-size="20" text-anchor="middle" fill="#1a1a1a" >5</text>
<line x1="81.1" y1="1060.7" x2="228.4" y2="1060.7" stroke="#222" stroke-width="1.3" />
<line x1="269.1" y1="1060.7" x2="415.1" y2="1060.7" stroke="#222" stroke-width="1.3" />
<text x="157.79999999999998" y="1079.1000000000001" font-size="20.3" text-anchor="middle" fill="#1a1a1a" >before treatment</text>
<text x="344.70000000000005" y="1079.1000000000001" font-size="20.3" text-anchor="middle" fill="#1a1a1a" >after treatment</text>
<path d="M160,1090.5V1105.1H340V1090.5" fill="none" stroke="#222" stroke-width="1.3"/>
<path d="M232.60,1103.05L232.60,1093.55M228.49,1100.67L236.71,1095.92M228.49,1095.92L236.71,1100.67" stroke="#1e1e1e" stroke-width="2.1" stroke-linecap="round" fill="none"/>
<path d="M247.40,1103.05L247.40,1093.55M243.29,1100.67L251.51,1095.92M243.29,1095.92L251.51,1100.67" stroke="#1e1e1e" stroke-width="2.1" stroke-linecap="round" fill="none"/>
<path d="M262.20,1103.05L262.20,1093.55M258.09,1100.67L266.31,1095.92M258.09,1095.92L266.31,1100.67" stroke="#1e1e1e" stroke-width="2.1" stroke-linecap="round" fill="none"/>
<path d="M277.00,1103.05L277.00,1093.55M272.89,1100.67L281.11,1095.92M272.89,1095.92L281.11,1100.67" stroke="#1e1e1e" stroke-width="2.1" stroke-linecap="round" fill="none"/>
<line x1="85" y1="820" x2="400" y2="820" stroke="#222" stroke-width="1.3" />
<path d="M226.30,814.75L226.30,805.25M222.19,812.38L230.41,807.62M222.19,807.62L230.41,812.38" stroke="#1e1e1e" stroke-width="2.1" stroke-linecap="round" fill="none"/>
<path d="M241.10,814.75L241.10,805.25M236.99,812.38L245.21,807.62M236.99,807.62L245.21,812.38" stroke="#1e1e1e" stroke-width="2.1" stroke-linecap="round" fill="none"/>
<path d="M255.90,814.75L255.90,805.25M251.79,812.38L260.01,807.62M251.79,807.62L260.01,812.38" stroke="#1e1e1e" stroke-width="2.1" stroke-linecap="round" fill="none"/>
<path d="M270.70,814.75L270.70,805.25M266.59,812.38L274.81,807.62M266.59,807.62L274.81,812.38" stroke="#1e1e1e" stroke-width="2.1" stroke-linecap="round" fill="none"/>
<text transform="translate(26.3,905.5) rotate(-90)" font-size="20" text-anchor="middle" fill="#1a1a1a">Escape latency [s]</text>
<text x="7" y="771.8" font-size="34" text-anchor="start" fill="#1a1a1a" >E</text>
<path d="M86.1,855V872.6M83.1,855H89.1M83.1,872.6H89.1" stroke="#3c3c3c" stroke-width="1.5" fill="none"/>
<path d="M120.3,866V885.6M117.3,866H123.3M117.3,885.6H123.3" stroke="#3c3c3c" stroke-width="1.5" fill="none"/>
<path d="M154.4,878V900.6M151.4,878H157.4M151.4,900.6H157.4" stroke="#3c3c3c" stroke-width="1.5" fill="none"/>
<path d="M188.6,880V902.6M185.6,880H191.6M185.6,902.6H191.6" stroke="#3c3c3c" stroke-width="1.5" fill="none"/>
<path d="M222.7,873.8V911.2M219.7,873.8H225.7M219.7,911.2H225.7" stroke="#3c3c3c" stroke-width="1.5" fill="none"/>
<path d="M274.40000000000003,866.8V884.8M271.40000000000003,866.8H277.40000000000003M271.40000000000003,884.8H277.40000000000003" stroke="#3c3c3c" stroke-width="1.5" fill="none"/>
<path d="M308.5,885V909M305.5,885H311.5M305.5,909H311.5" stroke="#3c3c3c" stroke-width="1.5" fill="none"/>
<path d="M342.6,871V896.6M339.6,871H345.6M339.6,896.6H345.6" stroke="#3c3c3c" stroke-width="1.5" fill="none"/>
<path d="M376.5,898V925.6M373.5,898H379.5M373.5,925.6H379.5" stroke="#3c3c3c" stroke-width="1.5" fill="none"/>
<path d="M410.70000000000005,875V899M407.70000000000005,875H413.70000000000005M407.70000000000005,899H413.70000000000005" stroke="#3c3c3c" stroke-width="1.5" fill="none"/>
<path d="M86.1,852V870.6M83.1,852H89.1M83.1,870.6H89.1" stroke="#3c3c3c" stroke-width="1.5" fill="none"/>
<path d="M120.3,855V873.6M117.3,855H123.3M117.3,873.6H123.3" stroke="#3c3c3c" stroke-width="1.5" fill="none"/>
<path d="M154.4,861.8V880.8M151.4,861.8H157.4M151.4,880.8H157.4" stroke="#3c3c3c" stroke-width="1.5" fill="none"/>
<path d="M188.6,854.5V880.5M185.6,854.5H191.6M185.6,880.5H191.6" stroke="#3c3c3c" stroke-width="1.5" fill="none"/>
<path d="M222.7,873.8V906.2M219.7,873.8H225.7M219.7,906.2H225.7" stroke="#3c3c3c" stroke-width="1.5" fill="none"/>
<path d="M274.40000000000003,848V859.6M271.40000000000003,848H277.40000000000003M271.40000000000003,859.6H277.40000000000003" stroke="#3c3c3c" stroke-width="1.5" fill="none"/>
<path d="M308.5,858.8V878.8M305.5,858.8H311.5M305.5,878.8H311.5" stroke="#3c3c3c" stroke-width="1.5" fill="none"/>
<path d="M342.6,860.5V888.1M339.6,860.5H345.6M339.6,888.1H345.6" stroke="#3c3c3c" stroke-width="1.5" fill="none"/>
<path d="M376.5,863.8V899.8M373.5,863.8H379.5M373.5,899.8H379.5" stroke="#3c3c3c" stroke-width="1.5" fill="none"/>
<path d="M410.70000000000005,876V905M407.70000000000005,876H413.70000000000005M407.70000000000005,905H413.70000000000005" stroke="#3c3c3c" stroke-width="1.5" fill="none"/>
<path d="M86.1,866V881.6M83.1,866H89.1M83.1,881.6H89.1" stroke="#3c3c3c" stroke-width="1.5" fill="none"/>
<path d="M120.3,884V907M117.3,884H123.3M117.3,907H123.3" stroke="#3c3c3c" stroke-width="1.5" fill="none"/>
<path d="M154.4,875V897.6M151.4,875H157.4M151.4,897.6H157.4" stroke="#3c3c3c" stroke-width="1.5" fill="none"/>
<path d="M188.6,877V899.6M185.6,877H191.6M185.6,899.6H191.6" stroke="#3c3c3c" stroke-width="1.5" fill="none"/>
<path d="M222.7,878V902M219.7,878H225.7M219.7,902H225.7" stroke="#3c3c3c" stroke-width="1.5" fill="none"/>
<path d="M274.40000000000003,876V895.6M271.40000000000003,876H277.40000000000003M271.40000000000003,895.6H277.40000000000003" stroke="#3c3c3c" stroke-width="1.5" fill="none"/>
<path d="M308.5,903V927M305.5,903H311.5M305.5,927H311.5" stroke="#3c3c3c" stroke-width="1.5" fill="none"/>
<path d="M342.6,893V922M339.6,893H345.6M339.6,922H345.6" stroke="#3c3c3c" stroke-width="1.5" fill="none"/>
<path d="M376.5,910V936M373.5,910H379.5M373.5,936H379.5" stroke="#3c3c3c" stroke-width="1.5" fill="none"/>
<path d="M410.70000000000005,906V934M407.70000000000005,906H413.70000000000005M407.70000000000005,934H413.70000000000005" stroke="#3c3c3c" stroke-width="1.5" fill="none"/>
<path d="M86.1,870.6V887M83.1,870.6H89.1M83.1,887H89.1" stroke="#3c3c3c" stroke-width="1.5" fill="none"/>
<path d="M120.3,896.2V923.8M117.3,896.2H123.3M117.3,923.8H123.3" stroke="#3c3c3c" stroke-width="1.5" fill="none"/>
<path d="M154.4,892.7V921.3M151.4,892.7H157.4M151.4,921.3H157.4" stroke="#3c3c3c" stroke-width="1.5" fill="none"/>
<path d="M188.6,897.3V926.3M185.6,897.3H191.6M185.6,926.3H191.6" stroke="#3c3c3c" stroke-width="1.5" fill="none"/>
<path d="M222.7,892.1V925.5M219.7,892.1H225.7M219.7,925.5H225.7" stroke="#3c3c3c" stroke-width="1.5" fill="none"/>
<path d="M274.40000000000003,881.2V913.8M271.40000000000003,881.2H277.40000000000003M271.40000000000003,913.8H277.40000000000003" stroke="#3c3c3c" stroke-width="1.5" fill="none"/>
<path d="M308.5,908.3V953.3M305.5,908.3H311.5M305.5,953.3H311.5" stroke="#3c3c3c" stroke-width="1.5" fill="none"/>
<path d="M342.6,908.7V956.3M339.6,908.7H345.6M339.6,956.3H345.6" stroke="#3c3c3c" stroke-width="1.5" fill="none"/>
<path d="M376.5,918.2V961.8M373.5,918.2H379.5M373.5,961.8H379.5" stroke="#3c3c3c" stroke-width="1.5" fill="none"/>
<path d="M410.70000000000005,912.6V965M407.70000000000005,912.6H413.70000000000005M407.70000000000005,965H413.70000000000005" stroke="#3c3c3c" stroke-width="1.5" fill="none"/>
<polyline points="86.1,863.8 120.3,875.8 154.4,889.3 188.6,891.3 222.7,892.5" fill="none" stroke="#444" stroke-width="1.6" />
<polyline points="274.40000000000003,875.8 308.5,897 342.6,883.8 376.5,911.8 410.70000000000005,887" fill="none" stroke="#444" stroke-width="1.6" />
<polyline points="86.1,861.3 120.3,864.3 154.4,871.3 188.6,867.5 222.7,890" fill="none" stroke="#b8b8b8" stroke-width="1.3" />
<polyline points="274.40000000000003,853.8 308.5,868.8 342.6,874.3 376.5,881.8 410.70000000000005,890.5" fill="none" stroke="#b8b8b8" stroke-width="1.3" />
<polyline points="86.1,873.8 120.3,895.5 154.4,886.3 188.6,888.3 222.7,890" fill="none" stroke="#1c1c1c" stroke-width="2.0" stroke-dasharray="4.2 3"/>
<polyline points="274.40000000000003,885.8 308.5,915 342.6,907.5 376.5,923 410.70000000000005,920" fill="none" stroke="#1c1c1c" stroke-width="2.0" stroke-dasharray="4.2 3"/>
<polyline points="86.1,878.8 120.3,910 154.4,907 188.6,911.8 222.7,908.8" fill="none" stroke="#a6a6a6" stroke-width="1.6" stroke-dasharray="3.5 3"/>
<polyline points="274.40000000000003,897.5 308.5,930.8 342.6,932.5 376.5,940 410.70000000000005,938.8" fill="none" stroke="#a6a6a6" stroke-width="1.6" stroke-dasharray="3.5 3"/>
<rect x="82.5" y="860.1999999999999" width="7.2" height="7.2" fill="#000" stroke="#222" stroke-width="1"/>
<rect x="116.7" y="872.1999999999999" width="7.2" height="7.2" fill="#000" stroke="#222" stroke-width="1"/>
<rect x="150.8" y="885.6999999999999" width="7.2" height="7.2" fill="#000" stroke="#222" stroke-width="1"/>
<rect x="185.0" y="887.6999999999999" width="7.2" height="7.2" fill="#000" stroke="#222" stroke-width="1"/>
<rect x="219.1" y="888.9" width="7.2" height="7.2" fill="#000" stroke="#222" stroke-width="1"/>
<rect x="270.8" y="872.1999999999999" width="7.2" height="7.2" fill="#000" stroke="#222" stroke-width="1"/>
<rect x="304.9" y="893.4" width="7.2" height="7.2" fill="#000" stroke="#222" stroke-width="1"/>
<rect x="339.0" y="880.1999999999999" width="7.2" height="7.2" fill="#000" stroke="#222" stroke-width="1"/>
<rect x="372.9" y="908.1999999999999" width="7.2" height="7.2" fill="#000" stroke="#222" stroke-width="1"/>
<rect x="407.1" y="883.4" width="7.2" height="7.2" fill="#000" stroke="#222" stroke-width="1"/>
<rect x="82.5" y="857.6999999999999" width="7.2" height="7.2" fill="#8a8a8a" stroke="#222" stroke-width="1"/>
<rect x="116.7" y="860.6999999999999" width="7.2" height="7.2" fill="#8a8a8a" stroke="#222" stroke-width="1"/>
<rect x="150.8" y="867.6999999999999" width="7.2" height="7.2" fill="#8a8a8a" stroke="#222" stroke-width="1"/>
<rect x="185.0" y="863.9" width="7.2" height="7.2" fill="#8a8a8a" stroke="#222" stroke-width="1"/>
<rect x="219.1" y="886.4" width="7.2" height="7.2" fill="#8a8a8a" stroke="#222" stroke-width="1"/>
<rect x="270.8" y="850.1999999999999" width="7.2" height="7.2" fill="#8a8a8a" stroke="#222" stroke-width="1"/>
<rect x="304.9" y="865.1999999999999" width="7.2" height="7.2" fill="#8a8a8a" stroke="#222" stroke-width="1"/>
<rect x="339.0" y="870.6999999999999" width="7.2" height="7.2" fill="#8a8a8a" stroke="#222" stroke-width="1"/>
<rect x="372.9" y="878.1999999999999" width="7.2" height="7.2" fill="#8a8a8a" stroke="#222" stroke-width="1"/>
<rect x="407.1" y="886.9" width="7.2" height="7.2" fill="#8a8a8a" stroke="#222" stroke-width="1"/>
<circle cx="86.1" cy="873.8" r="3.6" fill="#000" stroke="#222" stroke-width="1"/>
<circle cx="120.3" cy="895.5" r="3.6" fill="#000" stroke="#222" stroke-width="1"/>
<circle cx="154.4" cy="886.3" r="3.6" fill="#000" stroke="#222" stroke-width="1"/>
<circle cx="188.6" cy="888.3" r="3.6" fill="#000" stroke="#222" stroke-width="1"/>
<circle cx="222.7" cy="890" r="3.6" fill="#000" stroke="#222" stroke-width="1"/>
<circle cx="274.40000000000003" cy="885.8" r="3.6" fill="#000" stroke="#222" stroke-width="1"/>
<circle cx="308.5" cy="915" r="3.6" fill="#000" stroke="#222" stroke-width="1"/>
<circle cx="342.6" cy="907.5" r="3.6" fill="#000" stroke="#222" stroke-width="1"/>
<circle cx="376.5" cy="923" r="3.6" fill="#000" stroke="#222" stroke-width="1"/>
<circle cx="410.70000000000005" cy="920" r="3.6" fill="#000" stroke="#222" stroke-width="1"/>
<circle cx="86.1" cy="878.8" r="3.6" fill="#8a8a8a" stroke="#222" stroke-width="1"/>
<circle cx="120.3" cy="910" r="3.6" fill="#8a8a8a" stroke="#222" stroke-width="1"/>
<circle cx="154.4" cy="907" r="3.6" fill="#8a8a8a" stroke="#222" stroke-width="1"/>
<circle cx="188.6" cy="911.8" r="3.6" fill="#8a8a8a" stroke="#222" stroke-width="1"/>
<circle cx="222.7" cy="908.8" r="3.6" fill="#8a8a8a" stroke="#222" stroke-width="1"/>
<circle cx="274.40000000000003" cy="897.5" r="3.6" fill="#8a8a8a" stroke="#222" stroke-width="1"/>
<circle cx="308.5" cy="930.8" r="3.6" fill="#8a8a8a" stroke="#222" stroke-width="1"/>
<circle cx="342.6" cy="932.5" r="3.6" fill="#8a8a8a" stroke="#222" stroke-width="1"/>
<circle cx="376.5" cy="940" r="3.6" fill="#8a8a8a" stroke="#222" stroke-width="1"/>
<circle cx="410.70000000000005" cy="938.8" r="3.6" fill="#8a8a8a" stroke="#222" stroke-width="1"/>
<rect x="528.2" y="234.1" width="23.0" height="72.29999999999998" fill="#c6c6c6" stroke="#303030" stroke-width="1.3"/>
<rect x="559.3" y="220.3" width="22.300000000000068" height="86.09999999999997" fill="#6b6b6b" stroke="#303030" stroke-width="1.3"/>
<rect x="607.5" y="163.6" width="23.0" height="142.79999999999998" fill="#c6c6c6" stroke="#303030" stroke-width="1.3"/>
<rect x="638.3" y="203.4" width="22.5" height="102.99999999999997" fill="#6b6b6b" stroke="#303030" stroke-width="1.3"/>
<line x1="515.3" y1="70.5" x2="515.3" y2="306.4" stroke="#222" stroke-width="1.3" />
<line x1="509.29999999999995" y1="70.5" x2="515.3" y2="70.5" stroke="#222" stroke-width="1.3" />
<text x="505.99999999999994" y="77.3" font-size="20" text-anchor="end" fill="#1a1a1a" >20</text>
<line x1="509.29999999999995" y1="129.5" x2="515.3" y2="129.5" stroke="#222" stroke-width="1.3" />
<text x="505.99999999999994" y="136.3" font-size="20" text-anchor="end" fill="#1a1a1a" >15</text>
<line x1="509.29999999999995" y1="188.4" x2="515.3" y2="188.4" stroke="#222" stroke-width="1.3" />
<text x="505.99999999999994" y="195.20000000000002" font-size="20" text-anchor="end" fill="#1a1a1a" >10</text>
<line x1="509.29999999999995" y1="247.4" x2="515.3" y2="247.4" stroke="#222" stroke-width="1.3" />
<text x="505.99999999999994" y="254.20000000000002" font-size="20" text-anchor="end" fill="#1a1a1a" >5</text>
<line x1="509.29999999999995" y1="306.4" x2="515.3" y2="306.4" stroke="#222" stroke-width="1.3" />
<text x="505.99999999999994" y="313.2" font-size="20" text-anchor="end" fill="#1a1a1a" >0</text>
<line x1="515.3" y1="306.4" x2="673.5" y2="306.4" stroke="#222" stroke-width="1.3" />
<line x1="555.2" y1="306.4" x2="555.2" y2="312.4" stroke="#222" stroke-width="1.3" />
<text x="555.2" y="332.9" font-size="20.5" text-anchor="middle" fill="#1a1a1a" >VEH</text>
<line x1="634.7" y1="306.4" x2="634.7" y2="312.4" stroke="#222" stroke-width="1.3" />
<text x="634.7" y="332.9" font-size="20.5" text-anchor="middle" fill="#1a1a1a" >STZ</text>
<path d="M539.7,224.4V244.4M533.7,224.4H545.7M533.7,244.4H545.7" stroke="#1e1e1e" stroke-width="1.6" fill="none"/>
<path d="M570.45,207.1V231.3M564.45,207.1H576.45M564.45,231.3H576.45" stroke="#1e1e1e" stroke-width="1.6" fill="none"/>
<path d="M619.0,147.6V178.4M613.0,147.6H625.0M613.0,178.4H625.0" stroke="#1e1e1e" stroke-width="1.6" fill="none"/>
<path d="M649.55,198.6V207M643.55,198.6H655.55M643.55,207H655.55" stroke="#1e1e1e" stroke-width="1.6" fill="none"/>
<circle cx="539.9" cy="169.3" r="2.35" fill="#a4a4a4" stroke="#404040" stroke-width="1.35"/>
<circle cx="539.4" cy="222.4" r="2.35" fill="#a4a4a4" stroke="#404040" stroke-width="1.35"/>
<circle cx="539.4" cy="233.6" r="2.35" fill="#a4a4a4" stroke="#404040" stroke-width="1.35"/>
<circle cx="539.4" cy="243" r="2.35" fill="#a4a4a4" stroke="#404040" stroke-width="1.35"/>
<circle cx="530.5" cy="246.1" r="2.35" fill="#a4a4a4" stroke="#404040" stroke-width="1.35"/>
<circle cx="548.9" cy="247.4" r="2.35" fill="#a4a4a4" stroke="#404040" stroke-width="1.35"/>
<circle cx="544.2" cy="254.6" r="2.35" fill="#a4a4a4" stroke="#404040" stroke-width="1.35"/>
<circle cx="535" cy="257.3" r="2.35" fill="#a4a4a4" stroke="#404040" stroke-width="1.35"/>
<circle cx="618.7" cy="104.2" r="2.35" fill="#a4a4a4" stroke="#404040" stroke-width="1.35"/>
<circle cx="618.7" cy="122.1" r="2.35" fill="#a4a4a4" stroke="#404040" stroke-width="1.35"/>
<circle cx="618.7" cy="150.2" r="2.35" fill="#a4a4a4" stroke="#404040" stroke-width="1.35"/>
<circle cx="618.7" cy="159.6" r="2.35" fill="#a4a4a4" stroke="#404040" stroke-width="1.35"/>
<circle cx="618.7" cy="192.5" r="2.35" fill="#a4a4a4" stroke="#404040" stroke-width="1.35"/>
<circle cx="618.7" cy="202.4" r="2.35" fill="#a4a4a4" stroke="#404040" stroke-width="1.35"/>
<circle cx="618.7" cy="208.2" r="2.35" fill="#a4a4a4" stroke="#404040" stroke-width="1.35"/>
<circle cx="570.6" cy="143.8" r="2.8" fill="#000"/>
<circle cx="565.7" cy="209.6" r="2.8" fill="#000"/>
<circle cx="575" cy="206.4" r="2.8" fill="#000"/>
<circle cx="570.4" cy="221.8" r="2.8" fill="#000"/>
<circle cx="565.7" cy="237.4" r="2.8" fill="#000"/>
<circle cx="575.2" cy="235.2" r="2.8" fill="#000"/>
<circle cx="575.2" cy="241.5" r="2.8" fill="#000"/>
<circle cx="570.4" cy="258.4" r="2.8" fill="#000"/>
<circle cx="649.4" cy="186.1" r="2.8" fill="#000"/>
<circle cx="640.2" cy="198" r="2.8" fill="#000"/>
<circle cx="658.8" cy="196.6" r="2.8" fill="#000"/>
<circle cx="649.4" cy="199.9" r="2.8" fill="#000"/>
<circle cx="649.4" cy="205.3" r="2.8" fill="#000"/>
<circle cx="649.4" cy="210.6" r="2.8" fill="#000"/>
<circle cx="649.4" cy="221.8" r="2.8" fill="#000"/>
<path d="M538.6,140.7V78.1H617.3V92.2" fill="none" stroke="#222" stroke-width="1.3"/>
<path d="M623.7,92.2V78.1H649.8V159.9" fill="none" stroke="#222" stroke-width="1.3"/>
<path d="M566.10,75.75L566.10,66.25M561.99,73.38L570.21,68.62M561.99,68.62L570.21,73.38" stroke="#1e1e1e" stroke-width="2.1" stroke-linecap="round" fill="none"/>
<path d="M580.90,75.75L580.90,66.25M576.79,73.38L585.01,68.62M576.79,68.62L585.01,73.38" stroke="#1e1e1e" stroke-width="2.1" stroke-linecap="round" fill="none"/>
<path d="M595.70,75.75L595.70,66.25M591.59,73.38L599.81,68.62M591.59,68.62L599.81,73.38" stroke="#1e1e1e" stroke-width="2.1" stroke-linecap="round" fill="none"/>
<path d="M639.80,75.75L639.80,66.25M635.69,73.38L643.91,68.62M635.69,68.62L643.91,73.38" stroke="#1e1e1e" stroke-width="2.1" stroke-linecap="round" fill="none"/>
<text transform="translate(477.3,187.8) rotate(-90)" font-size="20" text-anchor="middle" fill="#1a1a1a">Mean swim distance [m]</text>
<text x="449.3" y="52.2" font-size="34" text-anchor="start" fill="#1a1a1a" >B</text>
<rect x="530.4" y="597.5" width="22.5" height="71.0" fill="#c6c6c6" stroke="#303030" stroke-width="1.3"/>
<rect x="561.1" y="594.2" width="23.0" height="74.29999999999995" fill="#6b6b6b" stroke="#303030" stroke-width="1.3"/>
<rect x="609.6" y="517.3" width="22.799999999999955" height="151.20000000000005" fill="#c6c6c6" stroke="#303030" stroke-width="1.3"/>
<rect x="641.6" y="573.2" width="22.199999999999932" height="95.29999999999995" fill="#6b6b6b" stroke="#303030" stroke-width="1.3"/>
<line x1="517.3" y1="430.5" x2="517.3" y2="668.5" stroke="#222" stroke-width="1.3" />
<line x1="511.29999999999995" y1="430.5" x2="517.3" y2="430.5" stroke="#222" stroke-width="1.3" />
<text x="507.99999999999994" y="437.3" font-size="20" text-anchor="end" fill="#1a1a1a" >10</text>
<line x1="511.29999999999995" y1="477.9" x2="517.3" y2="477.9" stroke="#222" stroke-width="1.3" />
<text x="507.99999999999994" y="484.7" font-size="20" text-anchor="end" fill="#1a1a1a" >8</text>
<line x1="511.29999999999995" y1="525.7" x2="517.3" y2="525.7" stroke="#222" stroke-width="1.3" />
<text x="507.99999999999994" y="532.5" font-size="20" text-anchor="end" fill="#1a1a1a" >6</text>
<line x1="511.29999999999995" y1="573.6" x2="517.3" y2="573.6" stroke="#222" stroke-width="1.3" />
<text x="507.99999999999994" y="580.4" font-size="20" text-anchor="end" fill="#1a1a1a" >4</text>
<line x1="511.29999999999995" y1="620.7" x2="517.3" y2="620.7" stroke="#222" stroke-width="1.3" />
<text x="507.99999999999994" y="627.5" font-size="20" text-anchor="end" fill="#1a1a1a" >2</text>
<line x1="511.29999999999995" y1="668.5" x2="517.3" y2="668.5" stroke="#222" stroke-width="1.3" />
<text x="507.99999999999994" y="675.3" font-size="20" text-anchor="end" fill="#1a1a1a" >0</text>
<line x1="517.3" y1="668.5" x2="677.3" y2="668.5" stroke="#222" stroke-width="1.3" />
<line x1="556.8" y1="668.5" x2="556.8" y2="674.5" stroke="#222" stroke-width="1.3" />
<text x="556.8" y="695.0" font-size="20.5" text-anchor="middle" fill="#1a1a1a" >VEH</text>
<line x1="636" y1="668.5" x2="636" y2="674.5" stroke="#222" stroke-width="1.3" />
<text x="636" y="695.0" font-size="20.5" text-anchor="middle" fill="#1a1a1a" >STZ</text>
<path d="M541.65,587.3V608.5M535.65,587.3H547.65M535.65,608.5H547.65" stroke="#1e1e1e" stroke-width="1.6" fill="none"/>
<path d="M572.6,580.1V608.5M566.6,580.1H578.6M566.6,608.5H578.6" stroke="#1e1e1e" stroke-width="1.6" fill="none"/>
<path d="M621.0,504V529.6M615.0,504H627.0M615.0,529.6H627.0" stroke="#1e1e1e" stroke-width="1.6" fill="none"/>
<path d="M652.7,565.5V578.8M646.7,565.5H658.7M646.7,578.8H658.7" stroke="#1e1e1e" stroke-width="1.6" fill="none"/>
<circle cx="541.2" cy="525" r="2.35" fill="#a4a4a4" stroke="#404040" stroke-width="1.35"/>
<circle cx="541" cy="596.7" r="2.35" fill="#a4a4a4" stroke="#404040" stroke-width="1.35"/>
<circle cx="532.5" cy="601.3" r="2.35" fill="#a4a4a4" stroke="#404040" stroke-width="1.35"/>
<circle cx="541" cy="603.4" r="2.35" fill="#a4a4a4" stroke="#404040" stroke-width="1.35"/>
<circle cx="532.5" cy="609" r="2.35" fill="#a4a4a4" stroke="#404040" stroke-width="1.35"/>
<circle cx="541" cy="613.6" r="2.35" fill="#a4a4a4" stroke="#404040" stroke-width="1.35"/>
<circle cx="550.4" cy="612" r="2.35" fill="#a4a4a4" stroke="#404040" stroke-width="1.35"/>
<circle cx="541" cy="620.5" r="2.35" fill="#a4a4a4" stroke="#404040" stroke-width="1.35"/>
<circle cx="621.1" cy="481" r="2.35" fill="#a4a4a4" stroke="#404040" stroke-width="1.35"/>
<circle cx="616" cy="497.6" r="2.35" fill="#a4a4a4" stroke="#404040" stroke-width="1.35"/>
<circle cx="626.2" cy="499.4" r="2.35" fill="#a4a4a4" stroke="#404040" stroke-width="1.35"/>
<circle cx="621.1" cy="511.7" r="2.35" fill="#a4a4a4" stroke="#404040" stroke-width="1.35"/>
<circle cx="621.1" cy="550" r="2.35" fill="#a4a4a4" stroke="#404040" stroke-width="1.35"/>
<circle cx="621.1" cy="550.2" r="2.35" fill="#a4a4a4" stroke="#404040" stroke-width="1.35"/>
<circle cx="621.1" cy="560.4" r="2.35" fill="#a4a4a4" stroke="#404040" stroke-width="1.35"/>
<circle cx="572.6" cy="504.5" r="2.8" fill="#000"/>
<circle cx="568" cy="587.8" r="2.8" fill="#000"/>
<circle cx="576.9" cy="587.8" r="2.8" fill="#000"/>
<circle cx="572.6" cy="593.1" r="2.8" fill="#000"/>
<circle cx="563.1" cy="614.9" r="2.8" fill="#000"/>
<circle cx="572.6" cy="619.2" r="2.8" fill="#000"/>
<circle cx="582" cy="617.9" r="2.8" fill="#000"/>
<circle cx="572.6" cy="628.9" r="2.8" fill="#000"/>
<circle cx="651.8" cy="541.1" r="2.8" fill="#000"/>
<circle cx="652.4" cy="562.5" r="2.8" fill="#000"/>
<circle cx="647.5" cy="570.1" r="2.8" fill="#000"/>
<circle cx="656.9" cy="574" r="2.8" fill="#000"/>
<circle cx="647.2" cy="592.4" r="2.8" fill="#000"/>
<circle cx="656.9" cy="590.6" r="2.8" fill="#000"/>
<path d="M540.7,510.9V447.8H619.4V461.9" fill="none" stroke="#222" stroke-width="1.3"/>
<path d="M625.5,461.9V447.8H651.8V528.8" fill="none" stroke="#222" stroke-width="1.3"/>
<path d="M557.40,441.55L557.40,432.05M553.29,439.18L561.51,434.43M553.29,434.43L561.51,439.18" stroke="#1e1e1e" stroke-width="2.1" stroke-linecap="round" fill="none"/>
<path d="M572.20,441.55L572.20,432.05M568.09,439.18L576.31,434.43M568.09,434.43L576.31,439.18" stroke="#1e1e1e" stroke-width="2.1" stroke-linecap="round" fill="none"/>
<path d="M587.00,441.55L587.00,432.05M582.89,439.18L591.11,434.43M582.89,434.43L591.11,439.18" stroke="#1e1e1e" stroke-width="2.1" stroke-linecap="round" fill="none"/>
<path d="M601.80,441.55L601.80,432.05M597.69,439.18L605.91,434.43M597.69,434.43L605.91,439.18" stroke="#1e1e1e" stroke-width="2.1" stroke-linecap="round" fill="none"/>
<path d="M631.60,441.55L631.60,432.05M627.49,439.18L635.71,434.43M627.49,434.43L635.71,439.18" stroke="#1e1e1e" stroke-width="2.1" stroke-linecap="round" fill="none"/>
<path d="M646.40,441.55L646.40,432.05M642.29,439.18L650.51,434.43M642.29,434.43L650.51,439.18" stroke="#1e1e1e" stroke-width="2.1" stroke-linecap="round" fill="none"/>
<text transform="translate(477.3,547.8) rotate(-90)" font-size="20" text-anchor="middle" fill="#1a1a1a">Mean search errors [n]</text>
<text x="448.3" y="409.5" font-size="34" text-anchor="start" fill="#1a1a1a" >D</text>
<rect x="530.3" y="917.7" width="22.0" height="110.5" fill="#c6c6c6" stroke="#303030" stroke-width="1.3"/>
<rect x="561" y="901.1" width="22.799999999999955" height="127.10000000000002" fill="#6b6b6b" stroke="#303030" stroke-width="1.3"/>
<rect x="609.6" y="874.8" width="22.0" height="153.4000000000001" fill="#c6c6c6" stroke="#303030" stroke-width="1.3"/>
<rect x="640.8" y="890.1" width="21.90000000000009" height="138.10000000000002" fill="#6b6b6b" stroke="#303030" stroke-width="1.3"/>
<line x1="517.5" y1="790.5" x2="517.5" y2="1028.2" stroke="#222" stroke-width="1.3" />
<line x1="511.5" y1="790.5" x2="517.5" y2="790.5" stroke="#222" stroke-width="1.3" />
<text x="508.2" y="797.3" font-size="20" text-anchor="end" fill="#1a1a1a" >80</text>
<line x1="511.5" y1="850.5" x2="517.5" y2="850.5" stroke="#222" stroke-width="1.3" />
<text x="508.2" y="857.3" font-size="20" text-anchor="end" fill="#1a1a1a" >60</text>
<line x1="511.5" y1="909.6" x2="517.5" y2="909.6" stroke="#222" stroke-width="1.3" />
<text x="508.2" y="916.4" font-size="20" text-anchor="end" fill="#1a1a1a" >40</text>
<line x1="511.5" y1="969.1" x2="517.5" y2="969.1" stroke="#222" stroke-width="1.3" />
<text x="508.2" y="975.9" font-size="20" text-anchor="end" fill="#1a1a1a" >20</text>
<line x1="511.5" y1="1028.2" x2="517.5" y2="1028.2" stroke="#222" stroke-width="1.3" />
<text x="508.2" y="1035.0" font-size="20" text-anchor="end" fill="#1a1a1a" >0</text>
<line x1="517.5" y1="1028.2" x2="676" y2="1028.2" stroke="#222" stroke-width="1.3" />
<line x1="555.7" y1="1028.2" x2="555.7" y2="1034.2" stroke="#222" stroke-width="1.3" />
<text x="555.7" y="1054.7" font-size="20.5" text-anchor="middle" fill="#1a1a1a" >VEH</text>
<line x1="635" y1="1028.2" x2="635" y2="1034.2" stroke="#222" stroke-width="1.3" />
<text x="635" y="1054.7" font-size="20.5" text-anchor="middle" fill="#1a1a1a" >STZ</text>
<path d="M541.3,902.9V932.3M535.3,902.9H547.3M535.3,932.3H547.3" stroke="#1e1e1e" stroke-width="1.6" fill="none"/>
<path d="M572.4,890.1V910.8M566.4,890.1H578.4M566.4,910.8H578.4" stroke="#1e1e1e" stroke-width="1.6" fill="none"/>
<path d="M620.6,867.1V882.4M614.6,867.1H626.6M614.6,882.4H626.6" stroke="#1e1e1e" stroke-width="1.6" fill="none"/>
<path d="M651.75,879.4V898.5M645.75,879.4H657.75M645.75,898.5H657.75" stroke="#1e1e1e" stroke-width="1.6" fill="none"/>
<circle cx="532.2" cy="867.1" r="2.35" fill="#a4a4a4" stroke="#404040" stroke-width="1.35"/>
<circle cx="541.2" cy="869.7" r="2.35" fill="#a4a4a4" stroke="#404040" stroke-width="1.35"/>
<circle cx="550.4" cy="867.9" r="2.35" fill="#a4a4a4" stroke="#404040" stroke-width="1.35"/>
<circle cx="541.2" cy="927.9" r="2.35" fill="#a4a4a4" stroke="#404040" stroke-width="1.35"/>
<circle cx="550.4" cy="946.6" r="2.35" fill="#a4a4a4" stroke="#404040" stroke-width="1.35"/>
<circle cx="541.2" cy="950.9" r="2.35" fill="#a4a4a4" stroke="#404040" stroke-width="1.35"/>
<circle cx="532.2" cy="955.5" r="2.35" fill="#a4a4a4" stroke="#404040" stroke-width="1.35"/>
<circle cx="550.4" cy="953.5" r="2.35" fill="#a4a4a4" stroke="#404040" stroke-width="1.35"/>
<circle cx="611.4" cy="864.6" r="2.35" fill="#a4a4a4" stroke="#404040" stroke-width="1.35"/>
<circle cx="620.4" cy="861.5" r="2.35" fill="#a4a4a4" stroke="#404040" stroke-width="1.35"/>
<circle cx="629.6" cy="860.7" r="2.35" fill="#a4a4a4" stroke="#404040" stroke-width="1.35"/>
<circle cx="629.6" cy="865.8" r="2.35" fill="#a4a4a4" stroke="#404040" stroke-width="1.35"/>
<circle cx="620.4" cy="885.3" r="2.35" fill="#a4a4a4" stroke="#404040" stroke-width="1.35"/>
<circle cx="620.4" cy="908.3" r="2.35" fill="#a4a4a4" stroke="#404040" stroke-width="1.35"/>
<circle cx="571.8" cy="864.1" r="2.8" fill="#000"/>
<circle cx="571.8" cy="873.5" r="2.8" fill="#000"/>
<circle cx="567" cy="885" r="2.8" fill="#000"/>
<circle cx="576.9" cy="881.9" r="2.8" fill="#000"/>
<circle cx="571.8" cy="895.2" r="2.8" fill="#000"/>
<circle cx="571.8" cy="926.1" r="2.8" fill="#000"/>
<circle cx="567" cy="940.2" r="2.8" fill="#000"/>
<circle cx="576.9" cy="938.1" r="2.8" fill="#000"/>
<circle cx="651.3" cy="857.2" r="2.8" fill="#000"/>
<circle cx="651.3" cy="862.3" r="2.8" fill="#000"/>
<circle cx="651.3" cy="869.7" r="2.8" fill="#000"/>
<circle cx="651.3" cy="898.5" r="2.8" fill="#000"/>
<circle cx="651.3" cy="904.9" r="2.8" fill="#000"/>
<circle cx="651.3" cy="910.6" r="2.8" fill="#000"/>
<circle cx="651.3" cy="922" r="2.8" fill="#000"/>
<text transform="translate(478.3,908.3) rotate(-90)" font-size="20" text-anchor="middle" fill="#1a1a1a">Mean escape latency [s]</text>
<text x="449" y="771.3" font-size="34" text-anchor="start" fill="#1a1a1a" >F</text>
</svg>
</body></html>
